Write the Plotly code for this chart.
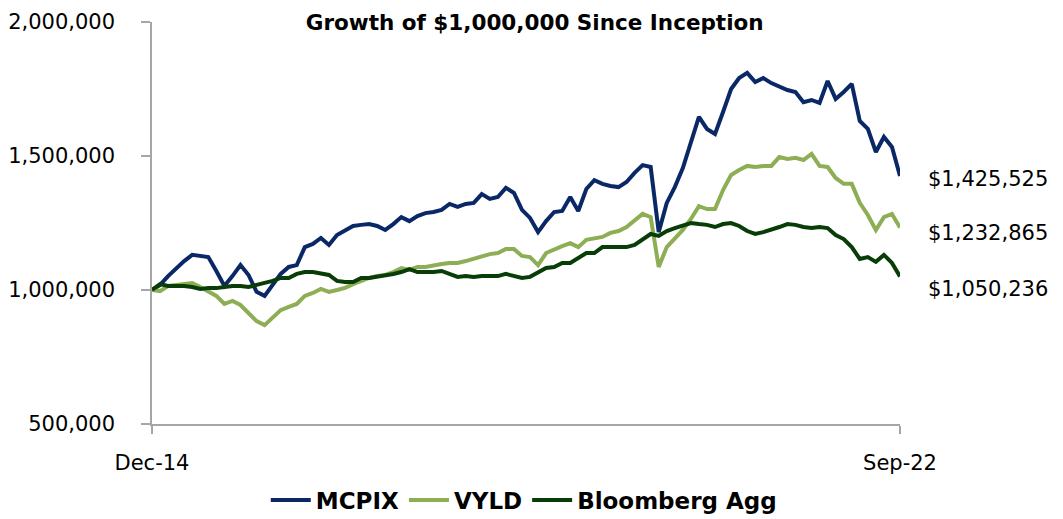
import pandas as pd
import plotly.graph_objects as go

# Monthly dates, Dec-14 .. Sep-22 (94 points)
months = pd.date_range("2014-12-01", "2022-09-01", freq="MS").strftime("%b-%y").tolist()

# Growth of $1,000,000 (values in thousands of dollars)
mcpix_k = [1000, 1019, 1052, 1082, 1108, 1131, 1127, 1123, 1071, 1015,
           1052, 1093, 1056, 993, 978, 1022, 1060, 1086, 1093, 1160,
           1172, 1194, 1168, 1205, 1224, 1239, 1243, 1246, 1239, 1224,
           1246, 1272, 1257, 1276, 1287, 1291, 1299, 1321, 1310, 1321,
           1325, 1358, 1340, 1347, 1381, 1362, 1299, 1269, 1216, 1257,
           1291, 1295, 1347, 1295, 1377, 1410, 1396, 1388, 1384, 1403,
           1437, 1466, 1459, 1216, 1325, 1384, 1455, 1549, 1646, 1601,
           1582, 1664, 1750, 1791, 1810, 1776, 1791, 1772, 1757, 1746,
           1739, 1701, 1709, 1698, 1780, 1713, 1739, 1769, 1631, 1601,
           1515, 1571, 1534, 1425.525]

vyld_k = [1000, 996, 1015, 1019, 1022, 1026, 1011, 996, 978, 948,
          959, 944, 914, 884, 869, 896, 925, 937, 948, 978,
          989, 1004, 993, 1000, 1008, 1022, 1034, 1045, 1052, 1056,
          1067, 1082, 1075, 1086, 1086, 1093, 1097, 1101, 1101, 1108,
          1116, 1123, 1134, 1138, 1153, 1153, 1127, 1123, 1093, 1138,
          1153, 1164, 1175, 1160, 1187, 1194, 1198, 1213, 1220, 1235,
          1258, 1284, 1272, 1086, 1160, 1194, 1224, 1265, 1313, 1302,
          1302, 1373, 1429, 1448, 1463, 1459, 1463, 1463, 1496, 1489,
          1493, 1485, 1508, 1463, 1459, 1418, 1396, 1396, 1325, 1280,
          1224, 1272, 1284, 1232.865]

agg_k = [1000, 1022, 1015, 1015, 1015, 1011, 1004, 1007, 1007, 1011,
         1015, 1015, 1011, 1019, 1026, 1034, 1045, 1045, 1060, 1067,
         1067, 1063, 1056, 1034, 1030, 1030, 1045, 1045, 1049, 1056,
         1060, 1067, 1078, 1067, 1067, 1067, 1071, 1060, 1049, 1052,
         1049, 1052, 1052, 1052, 1060, 1052, 1045, 1049, 1067, 1082,
         1086, 1101, 1101, 1119, 1138, 1138, 1160, 1160, 1160, 1160,
         1168, 1187, 1209, 1202, 1220, 1231, 1239, 1250, 1246, 1243,
         1235, 1246, 1250, 1239, 1220, 1209, 1216, 1224, 1235, 1246,
         1243, 1235, 1231, 1235, 1231, 1205, 1190, 1160, 1116, 1123,
         1105, 1131, 1101, 1050.236]

series_names = ["MCPIX", "VYLD", "Bloomberg Agg"]
series_vals = [[v * 1000 for v in s] for s in (mcpix_k, vyld_k, agg_k)]
colors = ["#0B2866", "#8DAE55", "#083D08"]
end_label_shift = [-3, -5, -12]

x_ticks = [months[0], months[-1]]
y_ticks = [500000, 1000000, 1500000, 2000000]

FONT = "DejaVu Sans"

fig = go.Figure()
for name, vals, col in zip(series_names, series_vals, colors):
    fig.add_trace(go.Scatter(x=months, y=vals, mode="lines", name=name,
                             line=dict(color=col, width=4)))

for vals, shift in zip(series_vals, end_label_shift):
    fig.add_annotation(x=months[-1], y=vals[-1], xref="x", yref="y",
                       text="${:,.0f}".format(vals[-1]), showarrow=False,
                       xanchor="left", yanchor="middle", xshift=26, yshift=shift,
                       font=dict(family=FONT, size=21, color="#000000"))

fig.update_layout(
    width=1063, height=519,
    margin=dict(l=152, r=163, t=22, b=95, autoexpand=False),
    paper_bgcolor="white", plot_bgcolor="white",
    title=dict(text="<b>Growth of $1,000,000 Since Inception</b>",
               x=0.503, xanchor="center", y=1 - 22 / 519, yanchor="middle",
               font=dict(family=FONT, size=21.5, color="#000000")),
    showlegend=True,
    legend=dict(orientation="h", x=0.497, xanchor="center",
                yref="container", y=(519 - 500) / 519, yanchor="middle",
                font=dict(family=FONT, size=23, color="#000000", weight="bold"),
                itemwidth=40, bgcolor="rgba(0,0,0,0)"),
    font=dict(family=FONT, color="#000000"),
)

fig.update_xaxes(type="category", range=[0, len(months) - 1],
                 tickmode="array", tickvals=x_ticks, ticktext=x_ticks,
                 showline=True, linecolor="#A6A6A6", linewidth=1.5,
                 ticks="outside", ticklen=8, tickcolor="#A6A6A6", tickwidth=1.5,
                 showgrid=False, zeroline=False, ticklabelstandoff=11,
                 tickfont=dict(family=FONT, size=21, color="#000000"))
fig.update_yaxes(range=[500000, 2000000], tickmode="array", tickvals=y_ticks,
                 tickformat=",.0f",
                 showline=True, linecolor="#A6A6A6", linewidth=1.5,
                 ticks="outside", ticklen=9, tickcolor="#A6A6A6", tickwidth=1.5,
                 showgrid=False, zeroline=False, ticklabelstandoff=22,
                 tickfont=dict(family=FONT, size=21, color="#000000"))

fig.write_html("out.html")
